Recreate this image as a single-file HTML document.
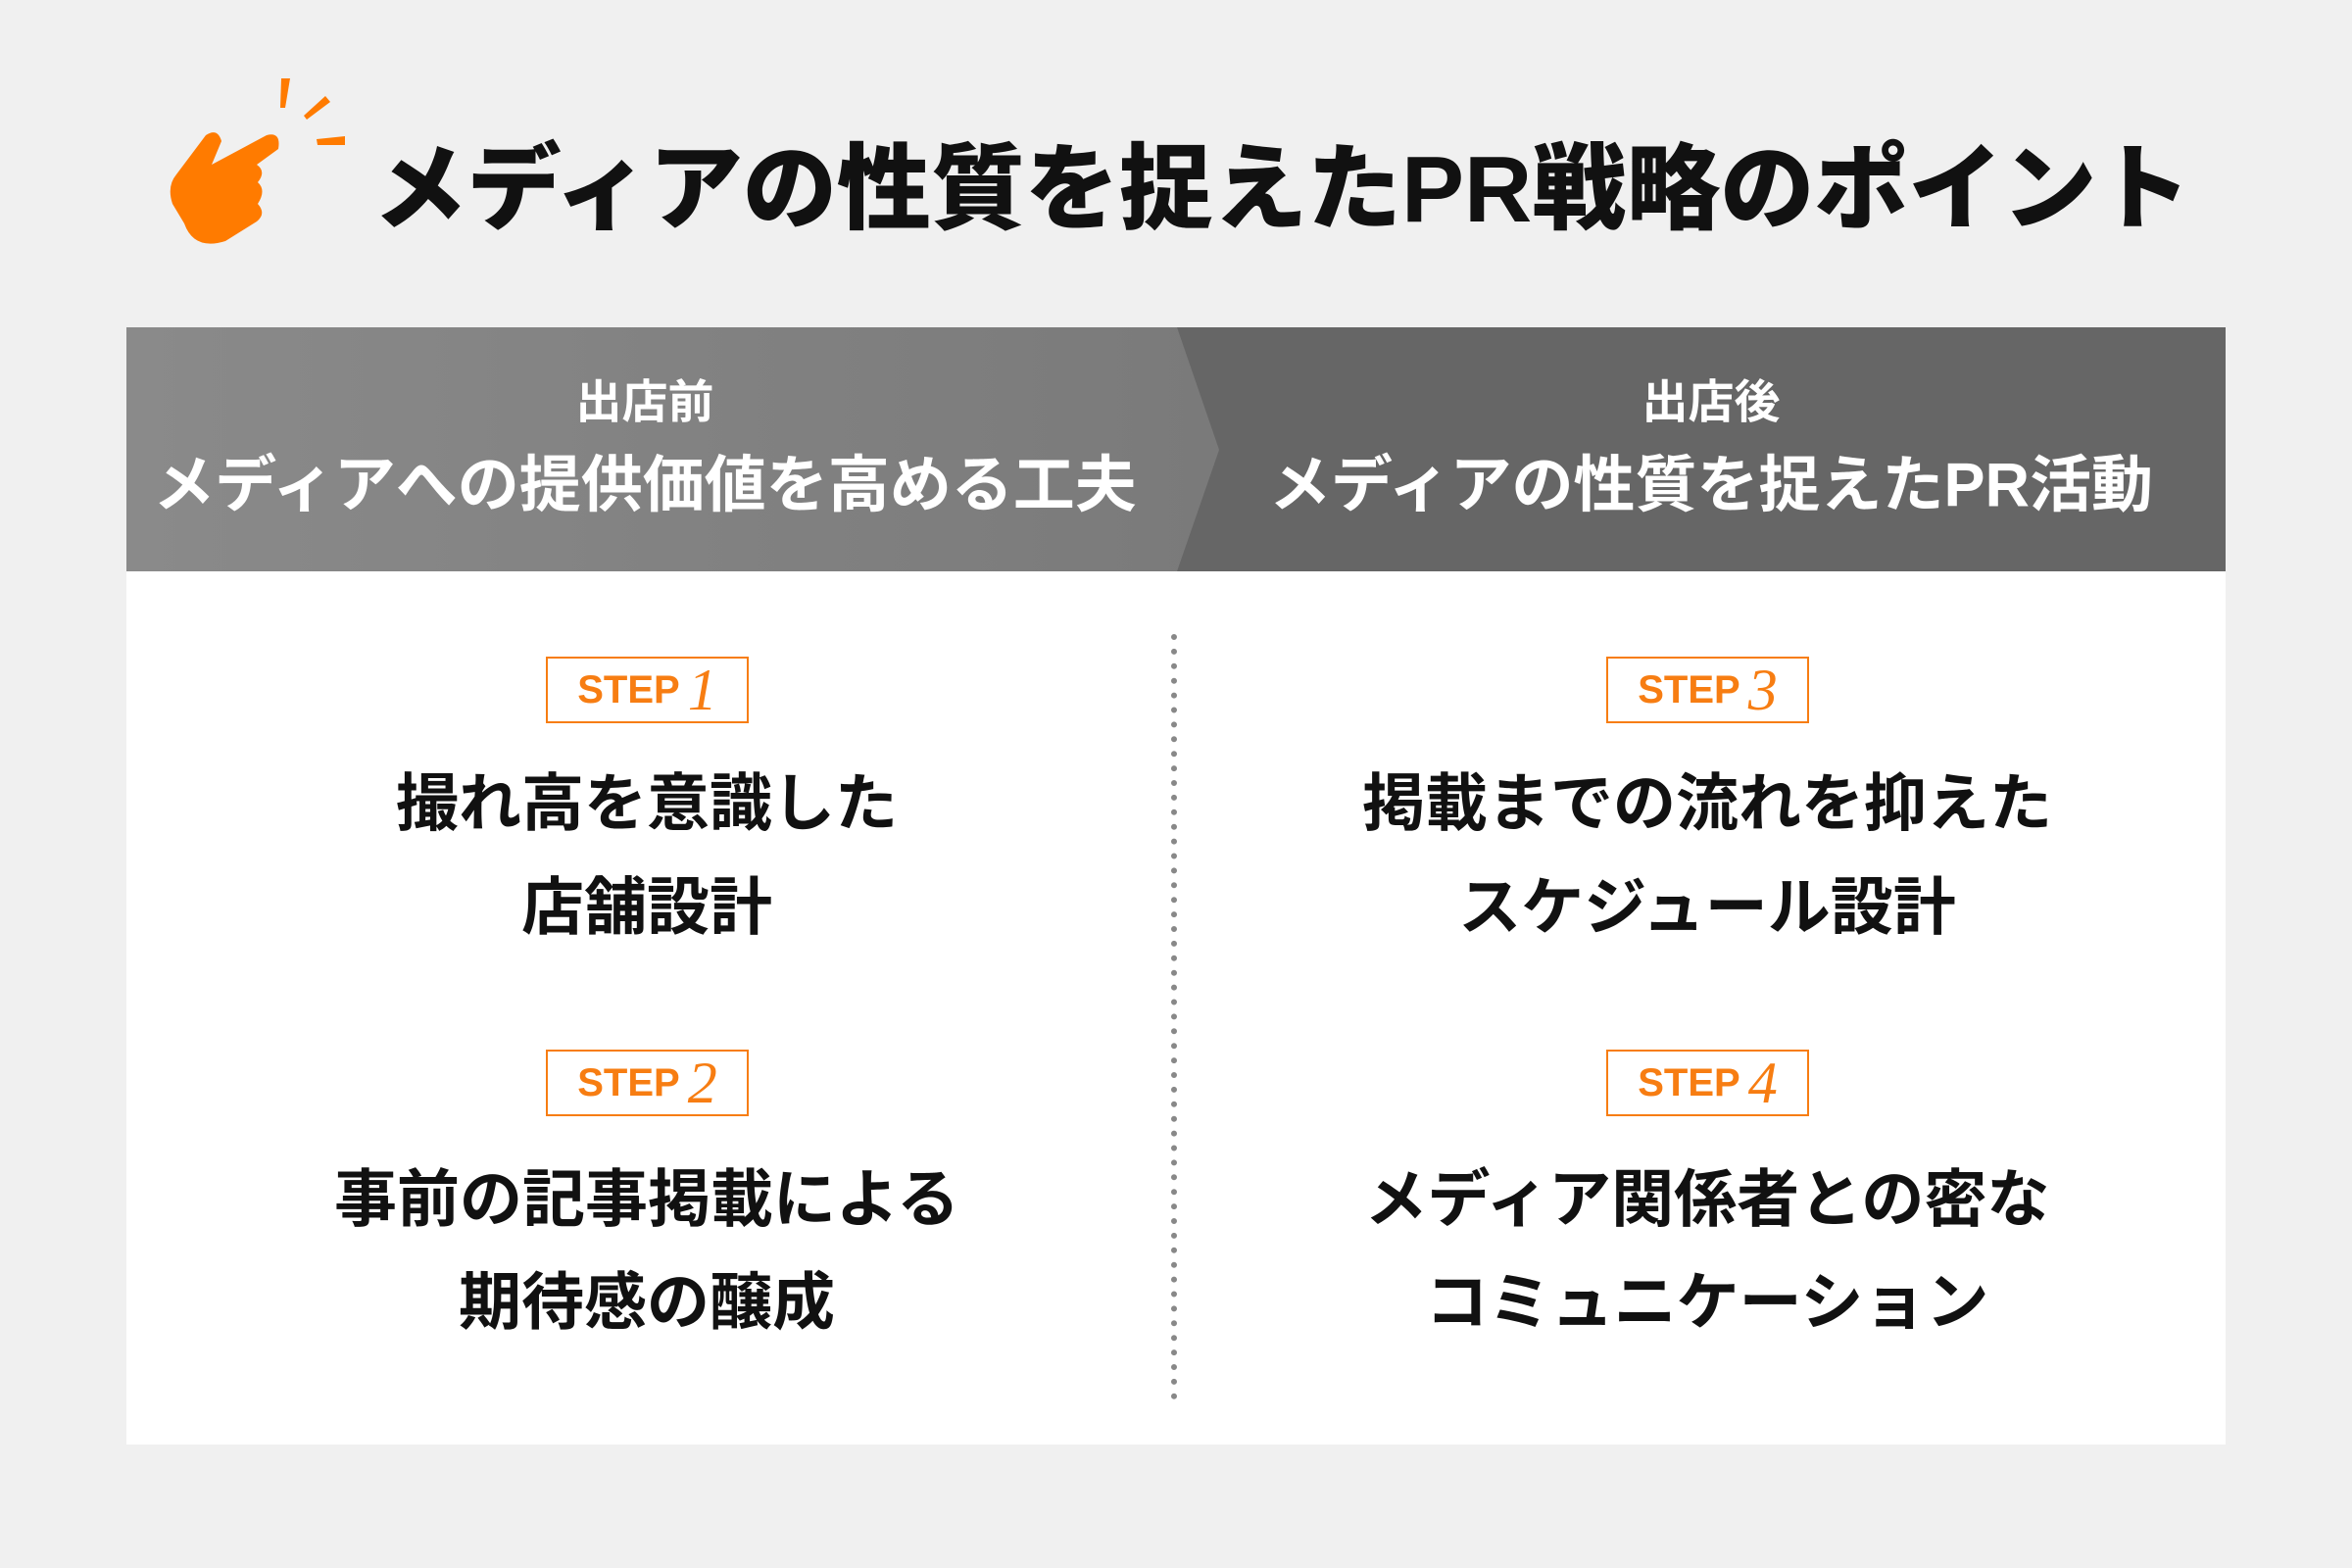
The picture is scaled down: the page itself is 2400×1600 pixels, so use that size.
<!DOCTYPE html>
<html><head><meta charset="utf-8"><style>
body{margin:0;width:2400px;height:1600px;background:#f0f0f0;position:relative;overflow:hidden;font-family:"Liberation Sans","Noto Sans CJK JP",sans-serif;font-weight:bold;color:#111}
.t{position:absolute;white-space:nowrap;transform:translate(-50%,-50%);line-height:1}
.step{position:absolute;width:207px;height:68px;border:2px solid #f77d12;box-sizing:border-box;color:#f77d12;font-size:40px;display:flex;align-items:center;justify-content:center;background:#fff}
.step i{font-family:"Liberation Serif",serif;font-style:italic;font-size:60px;margin-left:8px;font-weight:normal}
</style></head><body>
<svg style="position:absolute;left:150px;top:60px" width="250" height="220" viewBox="0 0 250 220">
<g fill="#ff7b00">
<polygon points="137,20 146,20 141,50 136,50"/>
<polygon points="182,38 187,44 163,62 160,58"/>
<polygon points="173,82 202,79 202,88 174,88"/>
<path d="M60,78 Q72,70 76,84 L66,108 L122,78 Q137,74 134,92 L112,108 Q122,115 113,126 Q122,134 113,148 Q122,158 112,166 L80,186 Q48,196 38,168 L26,148 Q20,130 30,118 Z"/>
</g></svg>
<div class="t" style="left:1308px;top:194px;font-size:96px;font-weight:900">メディアの性質を捉えたPR戦略のポイント</div>
<div style="position:absolute;left:129px;top:334px;width:2142px;height:1140px;background:#fff"></div>
<svg style="position:absolute;left:129px;top:334px" width="2142" height="249">
<defs><linearGradient id="g" x1="0" x2="1"><stop offset="0" stop-color="#8a8a8a"/><stop offset="1" stop-color="#7a7a7a"/></linearGradient></defs>
<rect width="2142" height="249" fill="#666"/>
<polygon points="0,0 1072,0 1115,125 1072,249 0,249" fill="url(#g)"/>
</svg>
<div class="t" style="left:658px;top:410px;font-size:47px;color:#fff">出店前</div>
<div class="t" style="left:658px;top:496px;font-size:63px;color:#fff">メディアへの提供価値を高める工夫</div>
<div class="t" style="left:1746px;top:410px;font-size:47px;color:#fff">出店後</div>
<div class="t" style="left:1746px;top:496px;font-size:63px;color:#fff">メディアの性質を捉えたPR活動</div>
<svg style="position:absolute;left:1190px;top:640px" width="16" height="790">
<line x1="8" y1="10" x2="8" y2="785" stroke="#888" stroke-width="6" stroke-linecap="round" stroke-dasharray="0 14.9"/>
</svg>
<div class="step" style="left:557px;top:670px">STEP<i>1</i></div>
<div class="step" style="left:557px;top:1071px">STEP<i>2</i></div>
<div class="step" style="left:1639px;top:670px">STEP<i>3</i></div>
<div class="step" style="left:1639px;top:1071px">STEP<i>4</i></div>
<div class="t" style="left:660px;top:820px;font-size:64px">撮れ高を意識した</div>
<div class="t" style="left:660px;top:926px;font-size:64px">店舗設計</div>
<div class="t" style="left:660px;top:1224px;font-size:64px">事前の記事掲載による</div>
<div class="t" style="left:660px;top:1329px;font-size:64px">期待感の醸成</div>
<div class="t" style="left:1742px;top:820px;font-size:64px">掲載までの流れを抑えた</div>
<div class="t" style="left:1742px;top:926px;font-size:64px">スケジュール設計</div>
<div class="t" style="left:1742px;top:1224px;font-size:64px">メディア関係者との密な</div>
<div class="t" style="left:1742px;top:1329px;font-size:64px">コミュニケーション</div>
</body></html>
